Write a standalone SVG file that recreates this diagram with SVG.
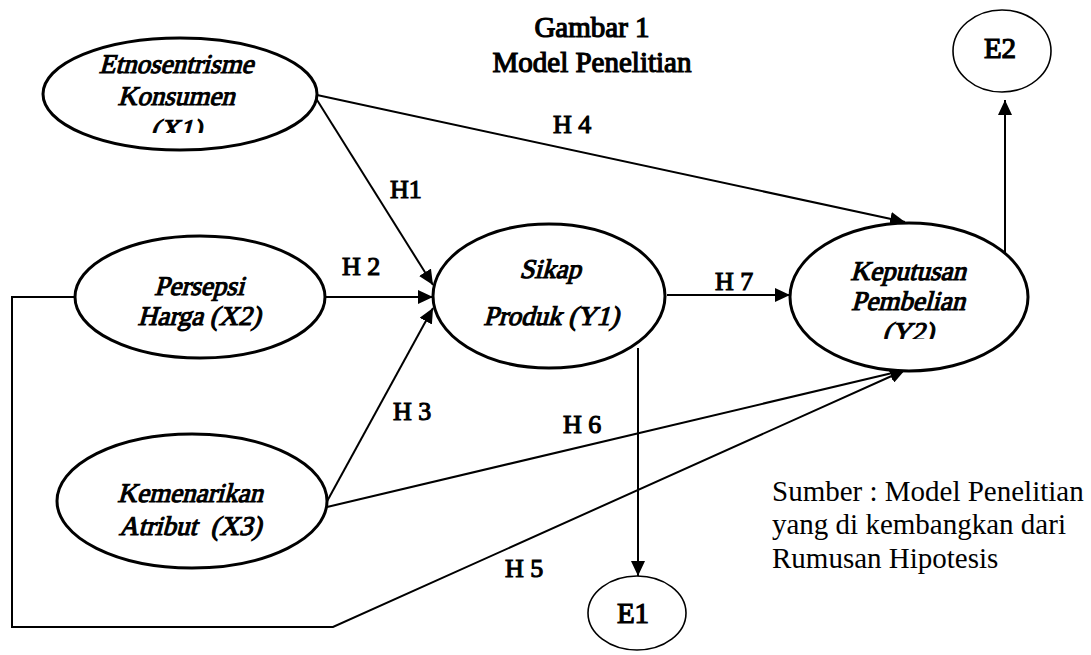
<svg xmlns="http://www.w3.org/2000/svg" width="1091" height="655" viewBox="0 0 1091 655">
<style>
.node{fill:#fff;stroke:#000;stroke-width:3}
.err{fill:#fff;stroke:#000;stroke-width:1.6}
.lbl{font-family:"Liberation Serif","Times New Roman",serif;font-size:27px;text-anchor:middle;white-space:pre;fill:#000;stroke:#000;stroke-width:1.1}
.etxt{font-family:"Liberation Serif","Times New Roman",serif;font-size:29px;text-anchor:middle;fill:#000;stroke:#000;stroke-width:1.2}
.h{font-family:"Liberation Serif","Times New Roman",serif;font-size:26px;white-space:pre;fill:#000;stroke:#000;stroke-width:1.1}
.conn{fill:none;stroke:#000;stroke-width:2}
.title{font-family:"Liberation Serif","Times New Roman",serif;font-size:29px;text-anchor:middle;fill:#000;stroke:#000;stroke-width:1.2}
.src{font-family:"Liberation Serif","Times New Roman",serif;font-size:29px}
</style>
<defs>
<marker id="arr" markerUnits="userSpaceOnUse" markerWidth="16" markerHeight="14" refX="15" refY="7" orient="auto"><path d="M0,0 L15,7 L0,14 z" fill="#000"/></marker>
<clipPath id="c1" clipPathUnits="userSpaceOnUse"><rect x="0" y="0" width="400" height="133"/></clipPath>
<clipPath id="c2" clipPathUnits="userSpaceOnUse"><rect x="700" y="200" width="391" height="139"/></clipPath>
</defs>
<rect width="1091" height="655" fill="#fff"/>
<g id="title">
<text class="title" x="592" y="37">Gambar 1</text>
<text class="title" x="592" y="72">Model Penelitian</text>
</g>
<g id="connectors">
<line class="conn" x1="312" y1="92" x2="433" y2="285" marker-end="url(#arr)"/>
<line class="conn" x1="325" y1="297" x2="433" y2="297" marker-end="url(#arr)"/>
<line class="conn" x1="325" y1="505" x2="433" y2="308" marker-end="url(#arr)"/>
<line class="conn" x1="317" y1="95" x2="905" y2="222" marker-end="url(#arr)"/>
<line class="conn" x1="327" y1="507" x2="905" y2="370" marker-end="url(#arr)"/>
<polyline class="conn" points="75,297 12,297 12,627 333,627 905,370" marker-end="url(#arr)"/>
<line class="conn" x1="667" y1="295" x2="790" y2="295" marker-end="url(#arr)"/>
<line class="conn" x1="638" y1="348" x2="638" y2="576" marker-end="url(#arr)"/>
<line class="conn" x1="1005" y1="253" x2="1005" y2="100" marker-end="url(#arr)"/>
<text class="h" x="390" y="198">H1</text>
<text class="h" x="342" y="275">H 2</text>
<text class="h" x="393" y="420">H 3</text>
<text class="h" x="553" y="133">H 4</text>
<text class="h" x="505" y="577">H 5</text>
<text class="h" x="563" y="433">H 6</text>
<text class="h" x="715" y="290">H 7</text>
</g>
<g id="X1">
<ellipse class="node" cx="180" cy="94" rx="137" ry="56"/>
<g clip-path="url(#c1)">
<text class="lbl" transform="translate(176,73) skewX(-15)">Etnosentrisme</text>
<text class="lbl" transform="translate(176,105) skewX(-15)">Konsumen</text>
<text class="lbl" transform="translate(176,138) skewX(-15)">(X1)</text>
</g>
</g>
<g id="X2">
<ellipse class="node" cx="200" cy="297" rx="125" ry="61"/>
<text class="lbl" transform="translate(199,295) skewX(-15)">Persepsi</text>
<text class="lbl" transform="translate(199,325) skewX(-15)">Harga (X2)</text>
</g>
<g id="X3">
<ellipse class="node" cx="192" cy="501" rx="135" ry="67"/>
<text class="lbl" transform="translate(190,502) skewX(-15)">Kemenarikan</text>
<text class="lbl" transform="translate(190,535) skewX(-15)">Atribut  (X3)</text>
</g>
<g id="Y1">
<ellipse class="node" cx="549" cy="296" rx="116" ry="72"/>
<text class="lbl" transform="translate(550,278) skewX(-15)">Sikap</text>
<text class="lbl" transform="translate(551,325) skewX(-15)">Produk (Y1)</text>
</g>
<g id="Y2">
<ellipse class="node" cx="909" cy="297" rx="119" ry="74"/>
<g clip-path="url(#c2)">
<text class="lbl" transform="translate(908,280) skewX(-15)">Keputusan</text>
<text class="lbl" transform="translate(908,310) skewX(-15)">Pembelian</text>
<text class="lbl" transform="translate(908,341) skewX(-15)">(Y2)</text>
</g>
</g>
<g id="E1">
<ellipse class="err" cx="637" cy="613" rx="49" ry="37"/>
<text class="etxt" x="633" y="623">E1</text>
</g>
<g id="E2">
<ellipse class="err" cx="1002" cy="51" rx="49" ry="41"/>
<text class="etxt" x="1000" y="58">E2</text>
</g>
<g id="source">
<text class="src" x="772" y="501">Sumber : Model Penelitian</text>
<text class="src" x="772" y="534">yang di kembangkan dari</text>
<text class="src" x="772" y="568">Rumusan Hipotesis</text>
</g>
</svg>
